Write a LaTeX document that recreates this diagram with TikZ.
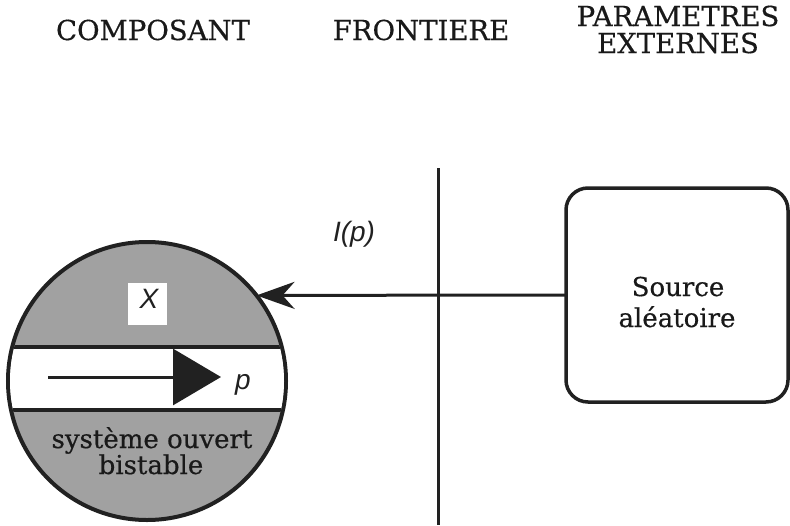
\documentclass[tikz,border=0pt]{standalone}
\usepackage{fontspec}
\setmainfont{DejaVu Serif}[FakeBold=0.5]
\newfontfamily\labelfont{Liberation Sans}
\usetikzlibrary{arrows.meta}

\definecolor{ink}{gray}{0.13}
\definecolor{dotted}{gray}{0.63}

\begin{document}
\begin{tikzpicture}[x=1pt,y=-1pt,
  heading/.style={font=\fontsize{27.5}{30}\selectfont, text=black!90, anchor=base, inner sep=0},
  bodytext/.style={font=\fontsize{26}{28}\selectfont, text=black!90, anchor=base, inner sep=0},
  symbol/.style={font=\labelfont\itshape\fontsize{28}{30}\selectfont, text=ink, anchor=base, inner sep=0},
  heavy/.style={line width=4pt, draw=ink},
  rule/.style={line width=3pt, draw=ink},
  component/.style={circle, heavy, fill=dotted, minimum size=278pt, inner sep=0, outer sep=0},
  sourcebox/.style={rectangle, rounded corners=22pt, line width=3.5pt, draw=ink,
                    minimum width=222pt, minimum height=214pt, inner sep=0, outer sep=0},
]
\useasboundingbox (0,0) rectangle (790,525);

% column headings
\node[heading] (hcomp) at (153,40) {COMPOSANT};
\node[heading] (hfront) at (421,40) {FRONTIERE};
\node[heading] (hparam1) at (678,26) {PARAMETRES};
\node[heading] (hparam2) at (678,53) {EXTERNES};

% boundary line
\coordinate (ftop) at (438,168);
\coordinate (fbot) at (438,525);
\draw[rule] (ftop) -- (fbot);

% external random source
\node[sourcebox] (source) at (677,295) {};
\node[bodytext] (src1) at (678,296) {Source};
\node[bodytext] (src2) at (677,327) {aléatoire};

% the component: shaded disc with a white flow band
\node[component] (comp) at (147,381) {};
\path (comp.center) ++(-145,-34) coordinate (bandtl) ++(290,63) coordinate (bandbr);
\begin{scope}
  \clip (comp.center) circle (137);
  \fill[white] (bandtl) rectangle (bandbr);
  \draw[heavy] (bandtl) -- (bandtl -| bandbr);
  \draw[heavy] (bandbr) -- (bandbr -| bandtl);
\end{scope}

% state label
\node[fill=white, minimum width=39pt, minimum height=42pt, inner sep=0] (xbox) at (147.5,304) {};
\node[symbol] (xlab) at (149,308) {X};

% flow arrow inside the band
\coordinate (pstart) at (48,377);
\coordinate (ptip) at (221,377);
\draw[rule, -{Triangle[length=48pt,width=56pt]}] (pstart) -- (ptip);
\node[symbol] (plab) at (243,389) {p};

% label of the component
\node[bodytext] (sys1) at (152,448) {système ouvert};
\node[bodytext] (sys2) at (151,474) {bistable};

% input from the source
\draw[rule, -{Stealth[length=38pt,width=27pt,inset=12pt]}] (source.west) -- (comp.38.2);
\node[symbol] (ilab) at (354,241) {I(p)};
\end{tikzpicture}
\end{document}
